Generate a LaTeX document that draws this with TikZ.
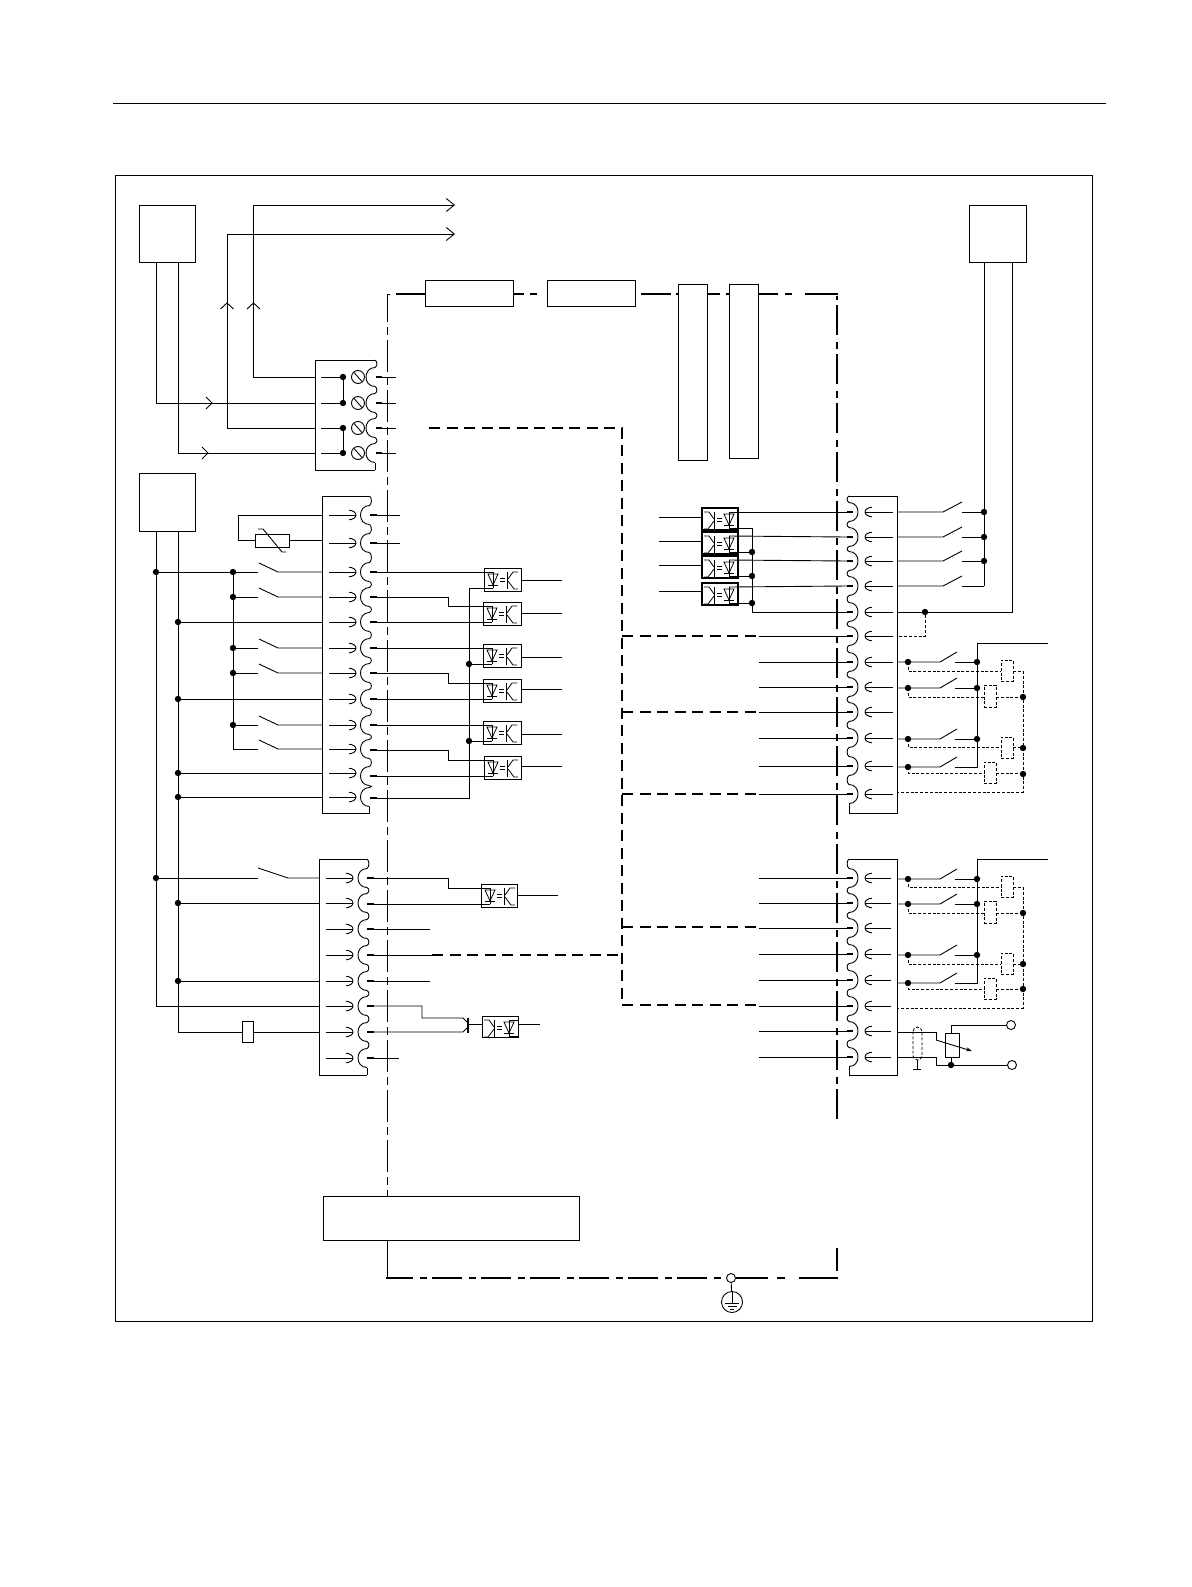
\documentclass[tikz,border=0pt]{standalone}
\usetikzlibrary{arrows.meta}
\tikzset{
  x=1pt,y=-1pt,
  wire/.style={line width=0.9pt,line join=miter},
  stub/.style={line width=2pt},
  dashdotthin/.style={line width=1pt,dash pattern=on 32pt off 5pt on 8pt off 5pt,dash phase=8pt},
  dashdotthick/.style={line width=1.7pt,dash pattern=on 30pt off 7pt on 6.5pt off 5.5pt},
  thickline/.style={line width=1.7pt},
  busdash/.style={line width=1.5pt,dash pattern=on 11pt off 6.5pt},
  coildash/.style={line width=0.8pt,dash pattern=on 3pt off 1.8pt},
  barbtip/.style={-{Straight Barb[length=8pt,width=13pt,line width=0.9pt]}},
  box/.style={draw,line width=0.9pt,inner sep=0pt,outer sep=0pt,anchor=north west},
  jdot/.style={circle,fill=black,inner sep=0pt,minimum size=6.4pt},
  ringnode/.style={circle,draw,fill=white,line width=0.9pt,inner sep=0pt,minimum size=9pt},
}
\newcommand\boxat[5]{\node[box,minimum width={(#4-#2)*1pt},minimum height={(#5-#3)*1pt}] (#1) at (#2,#3) {};}
% x, sign of bulge, top, bottom, rows, last row
\newcommand\scalloped[6]{%
  \foreach \y [remember=\y as \p (initially #3-9.5)] in {#5}{%
    \draw[wire] (#1,\p+9.5) .. controls (#1-#2*2.5,\p+11) and (#1-#2*2.5,\y-11) .. (#1,\y-9.5)
      .. controls (#1+#2*12,\y-9.5) and (#1+#2*12,\y+9.5) .. (#1,\y+9.5);
  }%
  \draw[wire] (#1,#6+9.5) -- (#1,#4);
}
% tip x, tail x, sign, rows (sign=+1 tip points right)
\newcommand\inarrows[4]{%
  \foreach \y in {#4}{%
    \draw[wire] (#2,\y) -- (#1,\y);
    \draw[wire] (#1-#3*7,\y-4.8) .. controls (#1-#3*3,\y-4.6) and (#1,\y-2.5) .. (#1,\y)
      .. controls (#1,\y+2.5) and (#1-#3*3,\y+4.6) .. (#1-#3*7,\y+4.8);
  }%
}
% name, x1, y1, x2, y2, output y offset, flip (1 or -1)
\newcommand\opto[7]{%
  \boxat{#1}{#2}{#3}{#4}{#5}
  \begin{scope}[shift={(\ifnum#7=1 #2\else #4\fi,#3)},xscale=#7]
    \coordinate (#1a) at (9,4);
    \coordinate (#1b) at (9,20);
    \coordinate (#1o) at (36,#6);
    \draw[wire,line width=0.8pt] (4,6) -- (14,6) -- (9,17) -- cycle;
    \draw[wire,line width=0.8pt] (4,17) -- (14,17);
    \draw[wire] (#1a) -- (#1b);
    \draw[wire,line width=0.9pt] (16,10.5) -- (21,10.5) (16,13) -- (21,13);
    \draw[wire,line width=1.1pt] (23.5,4) -- (23.5,21);
    \draw[wire,line width=0.8pt] (24,11) -- (29,4) -- (34,4);
    \draw[wire,line width=0.8pt] (24,13) -- (30,21) -- (34,21);
  \end{scope}
}
% horizontal run with left-hand lifted blade
\newcommand\swl[3]{% x start, x end, y
  \draw[wire] (#1,#3) -- (258,#3);
  \draw[wire] (259,#3-9) -- (278,#3) -- (#2,#3);
}
% x1 contact, x end, y, blade rise
\newcommand\swr[3]{%
  \draw[wire] (897,#2) -- (940,#2) -- (957,#2-#3);
  \draw[wire] (955,#2) -- (#1,#2);
}
\newcommand\relay[6]{% row y, dashed y, box x1, x2, y1, y2
  \draw[coildash] (908,#1) -- (908,#2) -- (#3,#2);
  \draw[coildash] (#4,#2) -- (1023,#2);
  \node[box,coildash,minimum width={(#4-#3)*1pt},minimum height={(#6-#5)*1pt}] at (#3,#5) {};
}
\begin{document}
\begin{tikzpicture}
\useasboundingbox (0,0) rectangle (1191,1587);
\fill[white] (0,0) rectangle (1191,1587);
\draw[wire] (113,103) -- (1106,103);
\boxat{frame}{115}{175}{1092}{1321}

% ---- field boxes
\boxat{psuL}{139}{205}{195}{262}
\boxat{psuR}{969}{205}{1026}{262}
\boxat{ioL}{139}{473}{195}{531}

% ---- module enclosure
\draw[dashdotthin] (387,298) -- (387,1278);
\draw[line width=1pt] (387,298) -- (387,294) -- (390,294);
\draw[line width=1pt] (387,1268) -- (387,1278);
\node[box,fill=white,minimum width=256pt,minimum height=44pt] (ctrl) at (323,1196) {};
\draw[dashdotthick,dash phase=3pt] (386,1278) -- (723,1278);
\draw[thickline] (736,1278) -- (768,1278) (777,1278) -- (785,1278) (799,1278) -- (838,1278);
\draw[dashdotthick] (837,305) -- (837,1123);
\draw[thickline] (837,296) -- (837,300) (837,1248) -- (837,1271);
\draw[thickline] (396,294) -- (426,294);
\draw[thickline] (513,294) -- (524,294) (530,294) -- (537,294);
\draw[thickline] (641,294) -- (671,294) (676,294) -- (678,294) (707,294) -- (720,294) (726,294) -- (729,294);
\draw[thickline] (758,294) -- (778,294) (785,294) -- (792,294) (805,294) -- (838,294);
\boxat{rA}{425}{280}{513}{306}
\boxat{rB}{547}{280}{635}{306}
\boxat{tA}{678}{284}{707}{460}
\boxat{tB}{729}{284}{758}{458}

% ---- internal bus
\coordinate (busT) at (622,428);
\draw[busdash] (429,428) -- (busT) -- (622,1005);
\foreach \y in {636,712,794,927,1005} \draw[busdash] (622,\y) -- (759,\y);
\draw[busdash] (432,955) -- (622,955);

% ---- ground
\node[ringnode] (gnd) at (731,1278) {};
\node[circle,draw,line width=0.9pt,inner sep=0pt,minimum size=21pt] (earth) at (732,1302) {};
\draw[wire] (gnd) -- (earth);
\draw[wire] (earth.north) -- (732,1303) (725,1303) -- (739,1303) (727.5,1306.5) -- (736.5,1306.5) (730,1309.5) -- (734,1309.5);

% ---- block 1 (power)
\draw[wire] (375,360) -- (315,360) -- (315,470) -- (375,470);
\scalloped{375}{-1}{360}{470}{377,403,428,453}{453}
\foreach \n/\y in {1/377,2/403,3/428,4/453}{
  \coordinate (P\n) at (315,\y);
  \draw[stub] (376,\y) -- (382,\y);
  \draw[wire] (382,\y) -- (396,\y);
  \draw[wire] (321,\y) -- (343,\y);
  \node[jdot] at (343,\y) {};
  \draw[wire] (358,\y) circle (6.5);
  \draw[wire] (354,\y-4.5) -- (362,\y+4.5);
}
\draw[wire] (343,377) -- (343,403) (343,428) -- (343,453);
\draw[wire,barbtip] (P1) -- (253.5,377) -- (253.5,205) -- (455,205);
\draw[wire,barbtip] (P3) -- (227,428) -- (227,234) -- (455,234);
\draw[wire] (156,262) -- (156,403) -- (P2);
\draw[wire] (178,262) -- (178,453) -- (P4);
\draw[wire] (206,397) -- (212,403) -- (206,409) (202,447) -- (208,453) -- (202,459);
\draw[wire] (220.5,309) -- (227,303) -- (233.5,309) (247,309) -- (253.5,303) -- (260,309);

% ---- block 2 (digital inputs)
\draw[wire] (369.5,496) -- (322,496) -- (322,813) -- (369.5,813);
\scalloped{369.5}{-1}{496}{813}{515,543,572,597,622,648,673,699,725,749,776,797}{797}
\inarrows{356}{329}{1}{515,543,572,597,622,648,673,699,725,749,773,797}
\foreach \n/\y in {1/515,2/543,3/572,4/597,5/622,6/648,7/673,8/699,9/725,10/750,11/776,12/798}{
  \coordinate (A\n) at (370,\y);
  \draw[stub] (370,\y) -- (377,\y);
}
\draw[wire] (377,515) -- (400,515) (377,543) -- (400,543);

% thermistor
\draw[wire] (322,515) -- (238,515) -- (238,540) -- (255,540);
\boxat{rth}{255}{534}{289}{547}
\draw[wire] (289,540) -- (322,540);
\draw[wire] (258,529) -- (263,529) -- (282,552) -- (286,552);

% bus lines
\draw[wire] (156,531) -- (156,1006) -- (319,1006);
\draw[wire] (178,531) -- (178,1032) -- (242,1032);
\boxat{rser}{242}{1021}{253}{1042}
\draw[wire] (253,1032) -- (319,1032);
\draw[wire] (233,572) -- (233,749);
\draw[wire] (156,572) -- (233,572);
\swl{233}{322}{572}\swl{233}{322}{597}\swl{233}{322}{648}\swl{233}{322}{673}\swl{233}{322}{725}\swl{233}{322}{749}
\foreach \y in {572,597,648,673,725} \node[jdot] at (233,\y) {};
\node[jdot] at (156,572) {};
\foreach \y in {622,699,773,797}{\draw[wire] (178,\y) -- (322,\y); \node[jdot] at (178,\y) {};}

% left optos
\opto{oA}{484}{568}{521}{591}{12.5}{1}
\opto{oB}{483}{602}{521}{625}{11}{1}
\opto{oC}{483}{644}{521}{667}{13}{1}
\opto{oD}{483}{679}{521}{702}{10}{1}
\opto{oE}{483}{721}{521}{744}{13}{1}
\opto{oF}{484}{756}{521}{779}{10}{1}
\draw[wire] (A3) -- (oAa);
\draw[wire] (A4) -- (448,597) -- (448,606) -- (oBa);
\draw[wire] (A5) -- (oBb);
\draw[wire] (A6) -- (oCa);
\draw[wire] (A7) -- (448,673) -- (448,683) -- (oDa);
\draw[wire] (A8) -- (oDb);
\draw[wire] (A9) -- (oEa);
\draw[wire] (A10) -- (448,750) -- (448,760) -- (oFa);
\draw[wire] (A11) -- (oFb);
\draw[wire] (oAb) -- (469,588) -- (469,798) -- (A12);
\draw[wire] (oCb) -- (469,664);\node[jdot] at (469,664) {};
\draw[wire] (oEb) -- (469,741);\node[jdot] at (469,741) {};
\foreach \n/\y in {A/580.5,B/613,C/657,D/689,E/734,F/766}
  \draw[wire] (521,\y) -- (562,\y);

% ---- block 3
\draw[wire] (367,859) -- (319,859) -- (319,1075) -- (367,1075);
\scalloped{367}{-1}{859}{1075}{878,903,929,955,981,1006,1032,1058}{1058}
\inarrows{353}{326}{1}{878,903,929,955,981,1006,1032,1058}
\foreach \n/\y in {1/878,2/904,3/929,4/955,5/981,6/1006,7/1032,8/1058}{
  \coordinate (B\n) at (367,\y);
  \draw[stub] (367,\y) -- (374,\y);
}
\draw[wire] (156,878) -- (258,878);
\draw[wire] (258,868) -- (288,878) -- (319,878);
\node[jdot] at (156,878) {};
\foreach \y in {903,981}{\draw[wire] (178,\y) -- (319,\y); \node[jdot] at (178,\y) {};}
\draw[wire] (B3) -- (430,929) (B4) -- (432,955) (B5) -- (430,981) (B8) -- (399,1058);
\opto{oG}{481}{884}{517}{907}{11}{1}
\draw[wire] (B1) -- (448,878) -- (448,888) -- (oGa);
\draw[wire] (B2) -- (oGb);
\draw[wire] (517,895) -- (558,895);
\opto{oH}{482}{1016}{518}{1037}{8}{-1}
\draw[wire] (B6) -- (422,1006) -- (422,1018) -- (463,1018) -- (468,1023);
\draw[wire] (B7) -- (463,1032) -- (468,1027);
\draw[wire,line width=1.1pt] (468,1018) -- (468,1033);
\draw[wire] (468,1024) -- (482,1024);
\draw[wire] (518,1024) -- (540,1024);
\draw[wire] (oHa) -- (518,1020) (oHb) -- (518,1036);

% ---- right optos
\opto{oP}{702}{508}{738}{530}{9}{-1}
\opto{oQ}{702}{532}{738}{554}{9}{-1}
\opto{oR}{702}{556}{738}{578}{9}{-1}
\opto{oS}{702}{583}{738}{605}{8}{-1}
\foreach \n in {P,Q,R,S} \draw[line width=1.4pt] (o\n.north west) rectangle (o\n.south east);
\foreach \y in {517,541,565,591} \draw[wire] (659,\y) -- (702,\y);

% ---- block 4 (right upper)
\draw[wire] (849,496) -- (897,496) -- (897,813) -- (849,813);
\scalloped{849}{1}{496}{813}{512,537,561,586,612,636,662,687,712,738,766,794}{794}
\inarrows{865}{893}{-1}{512,537,561,586,612,636,662,687,712,738,766,794}
\foreach \n/\y in {1/512,2/537,3/561,4/586,5/612,6/636,7/662,8/687,9/712,10/738,11/766,12/794}{
  \coordinate (C\n) at (847,\y);
  \draw[stub] (847,\y) -- (853,\y);
}
\draw[wire] (oPa) -- (C1);
\draw[wire] (oQa) -- (C2);
\draw[wire] (oRa) -- (C3);
\draw[wire] (oSa) -- (C4);
\draw[wire] (oPb) -- (752,528) -- (752,612) -- (C5);
\draw[wire] (oQb) -- (752,552); \node[jdot] at (752,552) {};
\draw[wire] (oRb) -- (752,576); \node[jdot] at (752,576) {};
\draw[wire] (oSb) -- (752,603); \node[jdot] at (752,603) {};
\foreach \n in {6,7,8,9,10,11,12}{\draw[wire] (759,0 |- C\n) -- (C\n);}

% switches row 1-4
\foreach \y in {512,537,561,586}{
  \draw[wire] (897,\y) -- (943,\y) -- (962,\y-10);
  \draw[wire] (962,\y) -- (984,\y);
}
\draw[wire] (984,262) -- (984,586);
\draw[wire] (1012,262) -- (1012,612) -- (897,612);
\foreach \y in {512,537,561} \node[jdot] at (984,\y) {};
\node[jdot] (jk) at (925,612) {};
\draw[coildash] (jk) -- (925,636) -- (897,636);

% relays upper
\draw[wire] (1048,643) -- (977,643) -- (977,767) -- (955,767);
\swr{977}{662}{10}\swr{977}{688}{10}\swr{977}{739}{10}\swr{977}{767}{10}
\foreach \y in {662,688,739,767} \node[jdot] at (908,\y) {};
\foreach \y in {662,688,739} \node[jdot] at (977,\y) {};
\relay{662}{671}{1001}{1013}{660}{681}
\relay{688}{697}{984}{996}{685}{707}
\relay{739}{747}{1001}{1013}{737}{758}
\relay{767}{773}{984}{996}{762}{783}
\draw[coildash] (1023,671) -- (1023,792) -- (897,792);
\foreach \y in {697,748,774} \node[jdot] at (1023,\y) {};

% ---- block 5 (right lower)
\draw[wire] (849,859) -- (897,859) -- (897,1075) -- (849,1075);
\scalloped{849}{1}{859}{1075}{878,903,928,954,980,1006,1031,1057}{1057}
\inarrows{865}{891}{-1}{878,903,928,954,980,1006,1031,1057}
\foreach \n/\y in {1/878,2/903,3/928,4/954,5/980,6/1006,7/1031,8/1057}{
  \coordinate (D\n) at (847,\y);
  \draw[stub] (847,\y) -- (853,\y);
  \draw[wire] (759,\y) -- (D\n);
}
\draw[wire] (1048,859) -- (977,859) -- (977,983) -- (955,983);
\swr{977}{879}{10}\swr{977}{904}{10}\swr{977}{955}{10}\swr{977}{983}{10}
\foreach \y in {879,904,955,983} \node[jdot] at (908,\y) {};
\foreach \y in {879,904,955} \node[jdot] at (977,\y) {};
\relay{879}{887}{1001}{1013}{876}{897}
\relay{904}{913}{984}{996}{901}{923}
\relay{955}{964}{1001}{1013}{953}{974}
\relay{983}{989}{984}{996}{978}{999}
\draw[coildash] (1023,887) -- (1023,1008) -- (897,1008);
\foreach \y in {913,964,989} \node[jdot] at (1023,\y) {};

% ---- RTD
\boxat{rtd}{945}{1033}{959}{1057}
\node[ringnode] (tA) at (1011,1025) {};
\node[ringnode] (tB) at (1012,1065) {};
\node[jdot] (jr) at (951,1065) {};
\draw[wire] (951,1033) -- (951,1025) -- (tA);
\draw[wire] (951,1057) -- (jr) -- (tB);
\draw[wire] (897,1032) -- (936,1032) -- (936,1040);
\draw[wire,-{Stealth[length=6pt,width=4pt]}] (936,1040) -- (972,1051);
\draw[wire] (897,1057) -- (936,1057) -- (936,1065) -- (jr);
\draw[coildash,rounded corners=4.5pt] (913,1027) rectangle (922,1060);
\draw[wire] (917,1060) -- (917,1069) (913,1069) -- (921,1069);
\end{tikzpicture}
\end{document}
